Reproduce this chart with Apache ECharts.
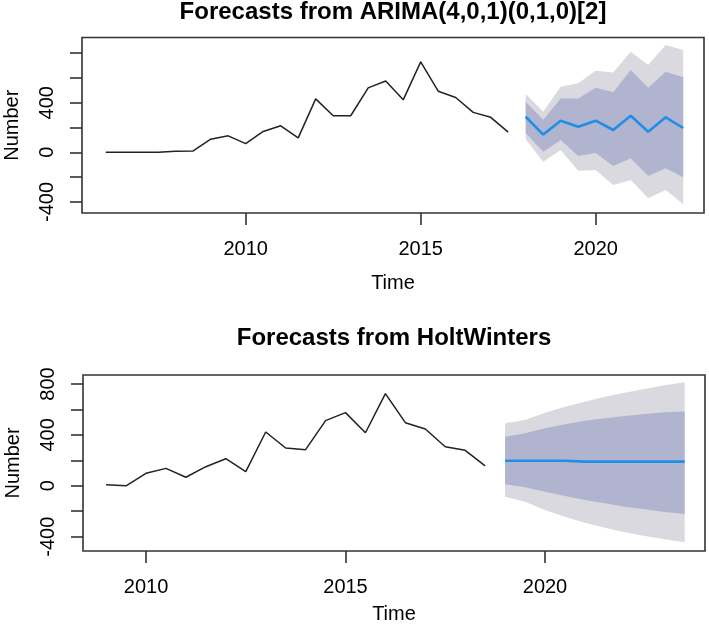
<!DOCTYPE html>
<html>
<head>
<meta charset="utf-8">
<script src="https://cdn.jsdelivr.net/npm/echarts@6/dist/echarts.min.js"></script>
<style>
html,body{margin:0;padding:0;background:#fff;}
#chart{width:709px;height:624px;}
</style>
</head>
<body>
<div id="chart"></div>
<script>
// ---- Top panel: ARIMA(4,0,1)(0,1,0)[2] ----
const topTitle = 'Forecasts from ARIMA(4,0,1)(0,1,0)[2]';
const topHistTime = [2006,2006.5,2007,2007.5,2008,2008.5,2009,2009.5,2010,2010.5,2011,2011.5,2012,2012.5,2013,2013.5,2014,2014.5,2015,2015.5,2016,2016.5,2017,2017.5];
const topHist = [0,0,0,0,8,11,106,133,70,168,214,116,431,295,295,520,575,423,729,493,442,322,282,163];
const topFcTime = [2018,2018.5,2019,2019.5,2020,2020.5,2021,2021.5,2022,2022.5];
const topMean = [287,143,255,206,255,180,295,166,282,196];
const topLo80 = [153,5,99,-30,-5,-110,-48,-191,-129,-202];
const topHi80 = [408,262,435,435,521,485,664,521,650,605];
const topLo95 = [105,-76,19,-148,-143,-264,-223,-371,-304,-419];
const topHi95 = [470,327,529,556,658,644,811,704,865,825];

// ---- Bottom panel: HoltWinters ----
const botTitle = 'Forecasts from HoltWinters';
const botHistTime = [2009,2009.5,2010,2010.5,2011,2011.5,2012,2012.5,2013,2013.5,2014,2014.5,2015,2015.5,2016,2016.5,2017,2017.5,2018,2018.5];
const botHist = [8,0,98,137,67,150,213,111,423,297,284,512,575,417,724,496,446,307,279,156];
const botFcTime = [2019,2019.5,2020,2020.5,2021,2021.5,2022,2022.5,2023,2023.5];
const botMean = [197,197,197,197,190,190,190,190,190,190];
const botLo80 = [12,-12,-46,-80,-112,-138,-164,-185,-206,-222];
const botHi80 = [386,412,452,483,512,530,548,564,578,583];
const botLo95 = [-86,-125,-190,-243,-290,-329,-366,-395,-421,-444];
const botHi95 = [491,517,574,622,661,700,732,761,790,813];

// ---- Axis ticks / labels ----
const xTicks = [2010, 2015, 2020];
const yTicks = [-400,-200,0,200,400,600,800];
const topYLabels = [-400, 0, 400];
const botYLabels = [-400, 0, 400, 800];

const FONT = '"Liberation Sans", Arial, sans-serif';
const AXIS_COLOR = '#333';
const LIGHT = '#d9d9df';
const DARK = '#b0b4cf';
const BLUE = '#1f8fe6';

function pairs(t, v) { return t.map((x, i) => [x, v[i]]); }

function bandSeries(xi, t, lo80, hi80, lo95, hi95) {
  return {
    type: 'custom',
    xAxisIndex: xi, yAxisIndex: xi,
    z: 1,
    silent: true,
    data: [[t[0], 0]],
    renderItem: function (params, api) {
      function poly(lo, hi, color) {
        const pts = [];
        for (let i = 0; i < t.length; i++) pts.push(api.coord([t[i], hi[i]]));
        for (let i = t.length - 1; i >= 0; i--) pts.push(api.coord([t[i], lo[i]]));
        return { type: 'polygon', shape: { points: pts }, style: { fill: color, stroke: null } };
      }
      return { type: 'group', children: [poly(lo95, hi95, LIGHT), poly(lo80, hi80, DARK)] };
    }
  };
}

function xAxisCfg(gi, min, max, gap) {
  return {
    type: 'value', gridIndex: gi, min: min, max: max, position: 'bottom',
    axisLine: { show: false, onZero: false },
    splitLine: { show: false },
    axisTick: { show: true, length: 12, customValues: xTicks, lineStyle: { color: AXIS_COLOR, width: 1.6 } },
    axisLabel: { customValues: xTicks, margin: 26, fontSize: 20, color: '#000', fontFamily: FONT,
      formatter: function (v) { return String(v); } },
    name: 'Time', nameLocation: 'middle', nameGap: gap,
    nameTextStyle: { fontSize: 20, color: '#000', fontFamily: FONT }
  };
}
function yAxisCfg(gi, min, max, labels) {
  return {
    type: 'value', gridIndex: gi, min: min, max: max, position: 'left',
    axisLine: { show: false, onZero: false },
    splitLine: { show: false },
    axisTick: { show: true, length: 12, customValues: yTicks, lineStyle: { color: AXIS_COLOR, width: 1.6 } },
    axisLabel: { customValues: labels, rotate: 90, margin: 25, fontSize: 20, color: '#000', fontFamily: FONT,
      formatter: function (v) { return String(v); } },
    name: 'Number', nameLocation: 'middle', nameRotate: 90, nameGap: 60,
    nameTextStyle: { fontSize: 20, color: '#000', fontFamily: FONT }
  };
}

const chart = echarts.init(document.getElementById('chart'), null, { renderer: 'canvas' });
chart.setOption({
  animation: false,
  backgroundColor: '#fff',
  title: [
    { text: topTitle, left: 393, top: 0, padding: 0, textAlign: 'center',
      textStyle: { fontSize: 24, fontWeight: 'bold', color: '#000', fontFamily: FONT } },
    { text: botTitle, left: 394, top: 326, padding: 0, textAlign: 'center',
      textStyle: { fontSize: 24, fontWeight: 'bold', color: '#000', fontFamily: FONT } }
  ],
  grid: [
    { left: 82, top: 37.5, width: 622, height: 175.5, show: true, borderColor: AXIS_COLOR, borderWidth: 1.6, backgroundColor: 'transparent', containLabel: false, outerBoundsMode: 'none' },
    { left: 83, top: 375, width: 622, height: 176, show: true, borderColor: AXIS_COLOR, borderWidth: 1.6, backgroundColor: 'transparent', containLabel: false, outerBoundsMode: 'none' }
  ],
  xAxis: [ xAxisCfg(0, 2005.323, 2023.094, 60), xAxisCfg(1, 2008.421, 2024.01, 53) ],
  yAxis: [ yAxisCfg(0, -489.5, 926, topYLabels), yAxisCfg(1, -512.4, 870.7, botYLabels) ],
  series: [
    bandSeries(0, topFcTime, topLo80, topHi80, topLo95, topHi95),
    { type: 'line', xAxisIndex: 0, yAxisIndex: 0, data: pairs(topHistTime, topHist), symbol: 'none', z: 3,
      lineStyle: { color: '#222', width: 1.5 } },
    { type: 'line', xAxisIndex: 0, yAxisIndex: 0, data: pairs(topFcTime, topMean), symbol: 'none', z: 4,
      lineStyle: { color: BLUE, width: 2.6 } },
    bandSeries(1, botFcTime, botLo80, botHi80, botLo95, botHi95),
    { type: 'line', xAxisIndex: 1, yAxisIndex: 1, data: pairs(botHistTime, botHist), symbol: 'none', z: 3,
      lineStyle: { color: '#222', width: 1.5 } },
    { type: 'line', xAxisIndex: 1, yAxisIndex: 1, data: pairs(botFcTime, botMean), symbol: 'none', z: 4,
      lineStyle: { color: BLUE, width: 2.6 } }
  ]
});
</script>
</body>
</html>
